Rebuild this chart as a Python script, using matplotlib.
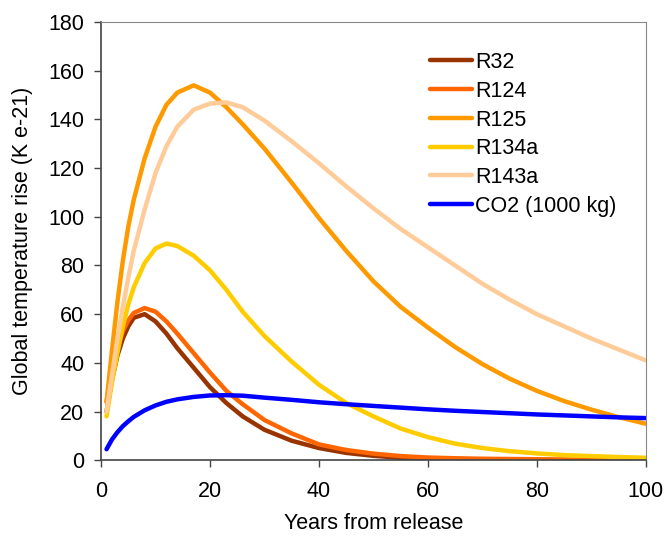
import matplotlib
matplotlib.use("Agg")
import matplotlib.pyplot as plt

plt.rcParams['font.family'] = ['Liberation Sans', 'DejaVu Sans']

# years after release (shared x values for every series)
years = [1, 2, 3, 4, 5, 6, 8, 10, 12, 14, 17, 20, 23, 26, 30, 35, 40, 45,
         50, 55, 60, 65, 70, 75, 80, 85, 90, 95, 100]

r32 = [20, 33, 43, 50, 55, 58.5, 60, 57, 52, 46, 38, 30, 23.5, 18, 12.5, 8,
       5, 3, 1.8, 1, 0.5, 0.3, 0.2, 0.1, 0.1, 0, 0, 0, 0]
r124 = [24, 36, 46, 53, 57.5, 60.5, 62.5, 61, 57, 52, 44, 36, 28.5, 23,
        16.5, 11, 6.5, 4.2, 2.7, 1.7, 1.1, 0.8, 0.6, 0.5, 0.4, 0.3, 0.2,
        0.15, 0.1]
r125 = [24, 45, 65, 82, 96, 107, 124, 137, 146, 151, 154, 151, 145, 138,
        128, 114, 99.5, 86, 73.5, 63, 54.5, 46.5, 39.5, 33.5, 28.5, 24.3,
        20.8, 17.7, 15]
r134a = [18, 32, 44, 55, 64, 71, 81, 87, 89, 88, 84, 78, 70, 61, 51, 40.5,
         31, 23.5, 18, 13, 9.5, 6.8, 5, 3.7, 2.8, 2.1, 1.7, 1.3, 1]
r143a = [20, 35, 50, 63, 75, 86, 103, 118, 129, 137, 144, 146.5, 147, 145,
         139.5, 131, 122, 112.5, 103.5, 95, 87.5, 80, 72.5, 66, 60, 55,
         50, 45.5, 41]
co2 = [4.5, 8.5, 11.5, 14, 16, 17.8, 20.5, 22.5, 24, 25, 26, 26.6, 26.7,
       26.5, 25.7, 24.8, 23.8, 23, 22.3, 21.6, 20.9, 20.3, 19.8, 19.3, 18.8,
       18.4, 18, 17.6, 17.3]

series = [("R32", r32, "#993300"),
          ("R124", r124, "#FF6600"),
          ("R125", r125, "#FF9900"),
          ("R134a", r134a, "#FFCC00"),
          ("R143a", r143a, "#FFCC99"),
          ("CO2 (1000 kg)", co2, "#0000FF")]

fig = plt.figure(figsize=(6.65, 5.37), dpi=100)
ax = fig.add_axes([0.152, 0.143, 0.819, 0.816])

for name, vals, col in series:
    ax.plot(years, vals, color=col, lw=3.2, label=name, solid_capstyle="round")

ax.set_xlim(0, 100)
ax.set_ylim(0, 180)
ax.set_xticks(range(0, 101, 20))
ax.set_yticks(range(0, 181, 20))
ax.tick_params(labelsize=15.5, direction="out", length=5, width=1,
               color="#444444")
ax.tick_params(axis="x", pad=10)
ax.tick_params(axis="y", pad=7)
for s in ["left", "bottom"]:
    ax.spines[s].set_color("#444444")
    ax.spines[s].set_linewidth(1.2)
for s in ["top", "right"]:
    ax.spines[s].set_color("#888888")
    ax.spines[s].set_linewidth(0.8)

ax.set_xlabel("Years from release", fontsize=15.5, labelpad=8)
ax.set_ylabel("Global temperature rise (K e-21)", fontsize=15.5, labelpad=11)

ax.legend(loc="upper left", bbox_to_anchor=(430 / 665, (537 - 52) / 537),
          bbox_transform=fig.transFigure, frameon=False, fontsize=15.5,
          handlelength=1.95, handletextpad=0.15, labelspacing=0.36,
          borderpad=0, borderaxespad=0)

fig.savefig("out.png", dpi=100)
